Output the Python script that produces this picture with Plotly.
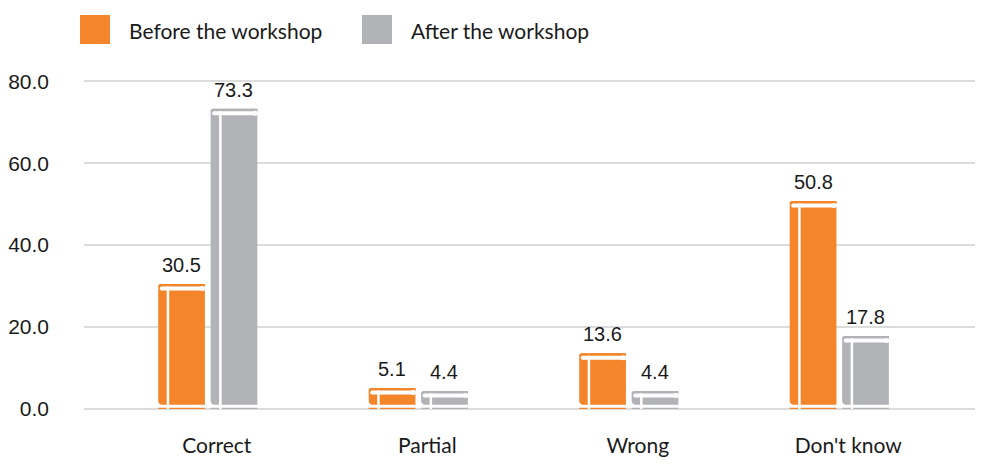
import plotly.graph_objects as go

categories = ["Correct", "Partial", "Wrong", "Don't know"]
before = [30.5, 5.1, 13.6, 50.8]
after = [73.3, 4.4, 4.4, 17.8]
series_names = ["Before the workshop", "After the workshop"]
y_ticks = [0, 20, 40, 60, 80]

ORANGE = "#F5852A"
GRAY = "#B1B3B6"
GRID = "#DCDCDC"
TXT = "#1A1A1A"

# page body has an 8px default margin; the plot area runs to the right window edge
W, H = 1000, 459
ML, MR, MT, MB = 76, 0, 70, 58
pxu = 210.5                        # pixels per category unit
X0 = -0.588
X1 = X0 + (W - ML - MR) / pxu
Y0, Y1 = 0, 80.8
BW = 0.222                         # bar width (category units)
GAP = 0.027
offsets = [-BW - GAP / 2, GAP / 2]
colors = [ORANGE, GRAY]
xs = list(range(len(categories)))

fig = go.Figure()
shapes = []
annotations = []

for s, (vals, name, col, off) in enumerate(zip([before, after], series_names, colors, offsets)):
    fig.add_trace(go.Bar(
        x=xs, y=vals, name=name, width=BW, offset=off,
        marker=dict(color=col, line=dict(width=0)),
        showlegend=False, hoverinfo="y+name",
    ))
    bwp = BW * pxu
    for i, v in zip(xs, vals):
        L = i + off
        # spine line
        shapes.append(dict(type="rect", xref="x", yref="y", xsizemode="pixel", xanchor=L,
                           x0=8.5, x1=11, y0=0, y1=v, fillcolor="white", line_width=0, layer="above"))
        # cover top
        shapes.append(dict(type="rect", xref="x", yref="y", xsizemode="pixel", ysizemode="pixel",
                           xanchor=L, yanchor=v, x0=0, x1=bwp, y0=-2.5, y1=0,
                           fillcolor=col, line_width=0, layer="above"))
        # page stripe
        shapes.append(dict(type="rect", xref="x", yref="y", xsizemode="pixel", ysizemode="pixel",
                           xanchor=L, yanchor=v, x0=3.5, x1=bwp - 3, y0=-6.5, y1=-2.5,
                           fillcolor="white", line_width=0, layer="above"))
        shapes.append(dict(type="circle", xref="x", yref="y", xsizemode="pixel", ysizemode="pixel",
                           xanchor=L, yanchor=v, x0=1.5, x1=5.5, y0=-6.5, y1=-2.5,
                           fillcolor="white", line_width=0, layer="above"))
        shapes.append(dict(type="circle", xref="x", yref="y", xsizemode="pixel", ysizemode="pixel",
                           xanchor=L, yanchor=v, x0=bwp - 5, x1=bwp + 0.5, y0=-7, y1=-2,
                           fillcolor="white", line_width=0, layer="above"))
        # rounded top-left corner
        shapes.append(dict(type="path", xref="x", yref="y", xsizemode="pixel", ysizemode="pixel",
                           xanchor=L, yanchor=v, path="M -0.5,0.5 L 3,0.5 Q 0,0 -0.5,-3 Z",
                           fillcolor="white", line_width=0, layer="above"))
        # rounded bottom-left corner
        shapes.append(dict(type="path", xref="x", yref="y", xsizemode="pixel", ysizemode="pixel",
                           xanchor=L, yanchor=0, path="M -0.5,3.5 L 5.5,3.5 Q 0,4 -0.5,9.5 Z",
                           fillcolor="white", line_width=0, layer="above"))
        annotations.append(dict(x=L + BW / 2, y=v, xref="x", yref="y", text=f"{v:.1f}",
                                showarrow=False, yanchor="bottom", yshift=6,
                                font=dict(family="Liberation Sans, Arial", size=20, color=TXT)))

# gap between bars and the baseline
shapes.append(dict(type="rect", xref="paper", yref="y", ysizemode="pixel", yanchor=0,
                   x0=0, x1=1, y0=1.2, y1=4.3, fillcolor="white", line_width=0, layer="above"))

# custom legend (large squares)
pw, ph = W - ML - MR, H - MT - MB
def px_x(p):
    return (p - ML) / pw
def px_y(p):
    return (H - MB - p) / ph
leg_x = [72, 354]
for name, col, lx in zip(series_names, colors, leg_x):
    shapes.append(dict(type="rect", xref="paper", yref="paper",
                       x0=px_x(lx), x1=px_x(lx + 30), y0=px_y(36), y1=px_y(7),
                       fillcolor=col, line_width=0))
    annotations.append(dict(x=px_x(lx + 47), y=px_y(22), xref="paper", yref="paper",
                            text=name, showarrow=False, xanchor="left", yanchor="middle",
                            font=dict(family="Lato, Noto Sans", size=21, color=TXT)))

fig.update_layout(
    width=W, height=H,
    margin=dict(l=ML, r=MR, t=MT, b=MB),
    plot_bgcolor="white", paper_bgcolor="white",
    barmode="overlay",
    shapes=shapes, annotations=annotations,
    xaxis=dict(range=[X0, X1], tickmode="array", tickvals=xs, ticktext=categories,
               showgrid=False, zeroline=False, showline=False, ticks="",
               ticklabelstandoff=22, ticklabelshift=9,
               tickfont=dict(family="Lato, Noto Sans", size=21, color=TXT), fixedrange=True),
    yaxis=dict(range=[Y0, Y1], tickmode="array", tickvals=y_ticks,
               ticktext=[f"{t:.1f}" for t in y_ticks],
               showgrid=True, gridcolor=GRID, gridwidth=2,
               zeroline=True, zerolinecolor=GRID, zerolinewidth=2, showline=False, ticks="",
               ticklabelstandoff=34,
               tickfont=dict(family="Liberation Sans, Arial", size=21, color=TXT), fixedrange=True),
)

fig.write_html("out.html")
